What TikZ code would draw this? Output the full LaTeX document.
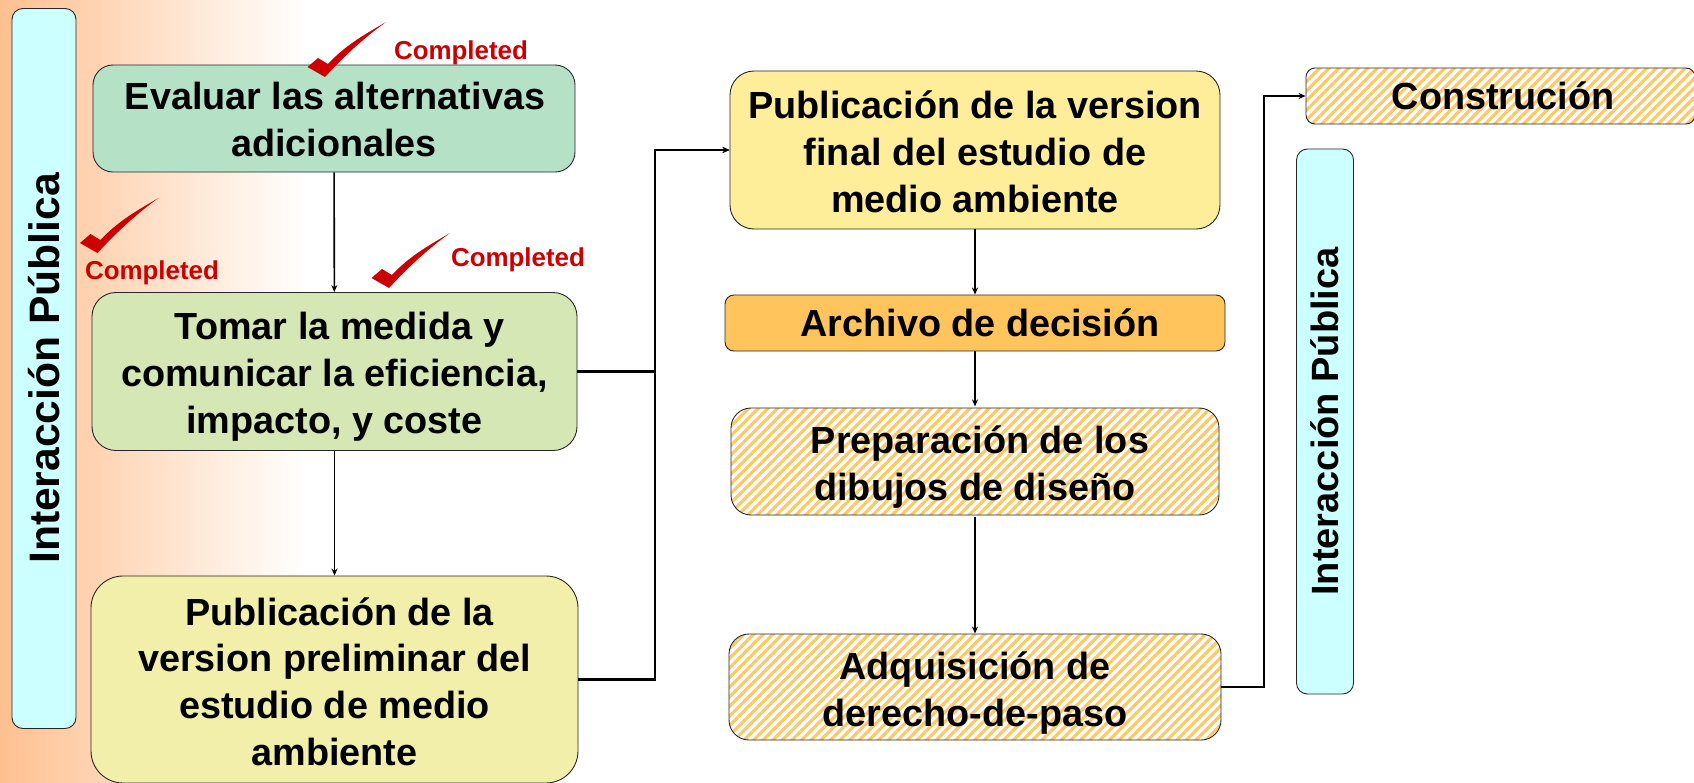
\documentclass[tikz,border=0pt]{standalone}
\usepackage{fontspec}
\setmainfont{Liberation Sans}
\usetikzlibrary{arrows.meta,patterns.meta}

\definecolor{bgorange}{HTML}{FFC090}
\definecolor{barcyan}{HTML}{CCFFFF}
\definecolor{evalgreen}{HTML}{B5E2C6}
\definecolor{tomargreen}{HTML}{D4E7B4}
\definecolor{prelimyellow}{HTML}{F1EFA9}
\definecolor{finalyellow}{HTML}{FFEE99}
\definecolor{archorange}{HTML}{FFC55C}
\definecolor{hatchorange}{HTML}{FFC866}
\definecolor{donered}{HTML}{CC0000}

\newcommand{\dropline}[1]{\rule{0pt}{#1pt}}

\begin{document}
\begin{tikzpicture}[
x=1pt, y=-1pt,
stepbox/.style={draw=black!85, line width=0.9pt, rounded corners=20pt,
                align=center, inner sep=0pt,
                font=\fontsize{37.8}{46.7}\selectfont\bfseries},
hatched/.style={pattern={Lines[angle=45,distance=6.8pt,line width=3.2pt]},
                pattern color=hatchorange},
pubbar/.style={draw=black!85, line width=0.9pt, fill=barcyan, rounded corners=11pt,
               rotate=90, inner sep=0pt, font=\bfseries},
link/.style={draw=black, line width=1.6pt, -{Stealth[length=7pt,width=6pt]}},
elbow/.style={link, line width=2.2pt},
donetext/.style={text=donered, inner sep=0pt,
                 font=\fontsize{25.9}{30}\selectfont\bfseries},
checkmark/.pic={
  \fill[donered] (0,0) -- (10.5,-9) -- (20.5,-3)
    .. controls (38,-22) and (58,-33) .. (78.5,-45)
    .. controls (55,-28) and (36,-10) .. (17.5,10) -- cycle;
}]

\useasboundingbox (0,0) rectangle (1694,782);

% background
\shade[left color=bgorange, right color=white] (0,0) rectangle (305,782);

% left column
\node[pubbar, minimum width=720pt, minimum height=64pt, font=\fontsize{42.6}{50}\selectfont\bfseries]
  (barleft) at (44,368.5) {Interacción Pública};
\node[stepbox, fill=evalgreen, minimum width=482pt, minimum height=107pt]
  (evaluar) at (334,118.5) {\dropline{29.5}\hspace*{2pt}Evaluar las alternativas\\adicionales};
\node[stepbox, fill=tomargreen, minimum width=485pt, minimum height=158pt, rounded corners=24pt]
  (tomar) at (334.5,371.5) {\dropline{37.5}\hspace*{10pt}Tomar la medida y\\comunicar la eficiencia,\\impacto, y coste};
\node[stepbox, fill=prelimyellow, minimum width=487pt, minimum height=207pt, rounded corners=32pt]
  (prelim) at (334.5,679.5) {\dropline{31.5}\hspace*{10pt}Publicación de la\\version preliminar del\\estudio de medio\\ambiente};

% middle column
\node[stepbox, fill=finalyellow, minimum width=490pt, minimum height=158pt, rounded corners=24pt]
  (final) at (975,150) {\dropline{31.5}Publicación de la version\\final del estudio de\\medio ambiente};
\node[stepbox, fill=archorange, minimum width=500pt, minimum height=56pt, rounded corners=9pt]
  (archivo) at (975,323) {\hspace*{10pt}Archivo de decisión};
\node[stepbox, hatched, minimum width=488pt, minimum height=107pt]
  (diseno) at (975,461.5) {\dropline{38.3}\hspace*{10pt}Preparación de los\\dibujos de diseño};
\node[stepbox, hatched, minimum width=492pt, minimum height=106pt]
  (derecho) at (975,687) {\dropline{39.5}Adquisición de\\derecho-de-paso};

% right column
\node[stepbox, hatched, minimum width=389pt, minimum height=56pt, rounded corners=9pt]
  (constr) at (1500.5,96) {\hspace*{5pt}Construción};
\node[pubbar, minimum width=545pt, minimum height=57pt, font=\fontsize{38}{45}\selectfont\bfseries]
  (barright) at (1325,421.5) {Interacción Pública};

% connectors
\coordinate (busleft) at (655,150);
\coordinate (busright) at (1264,96);
\draw[link] (evaluar) -- (tomar);
\draw[link] (tomar) -- (prelim);
\draw[link] (final) -- (archivo);
\draw[link] (archivo) -- (diseno);
\draw[link] (diseno) -- (derecho);
\draw[elbow] (tomar.east) -| (busleft) -- (final.west);
\draw[elbow] (prelim.east) -| (busleft) -- (final.west);
\draw[elbow] (derecho.east) -| (busright) -- (constr.west);

% check marks
\pic at (307.5,67) {checkmark};
\pic at (80,243) {checkmark};
\pic at (371.5,278) {checkmark};
\node[donetext] (done1) at (461,53) {Completed};
\node[donetext] (done2) at (152,273) {Completed};
\node[donetext] (done3) at (518,260) {Completed};

\end{tikzpicture}
\end{document}
